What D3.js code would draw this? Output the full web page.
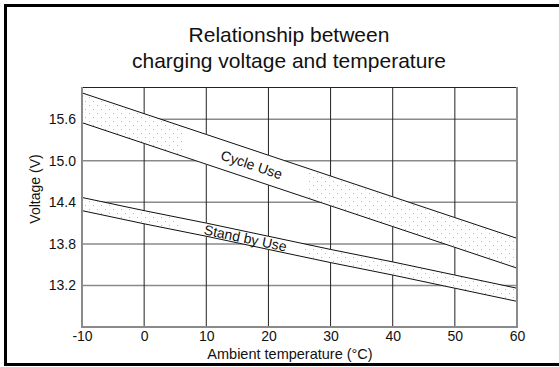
<!DOCTYPE html>
<html><head><meta charset="utf-8">
<script src="https://cdn.jsdelivr.net/npm/d3@7"></script>
<style>body{margin:0;background:#fff;}svg{display:block;font-family:"Liberation Sans",Arial,sans-serif;}</style>
</head><body>
<svg id="c" width="559" height="367"></svg>
<script>
const temps = [-10, 0, 10, 20, 30, 40, 50, 60];
const cycleUpper = [15.98, 15.68, 15.38, 15.08, 14.78, 14.48, 14.18, 13.88];
const cycleLower = [15.55, 15.25, 14.95, 14.65, 14.35, 14.05, 13.75, 13.45];
const standUpper = [14.47, 14.28, 14.10, 13.91, 13.72, 13.54, 13.35, 13.16];
const standLower = [14.28, 14.09, 13.91, 13.72, 13.53, 13.35, 13.16, 12.97];
const xTicks = [-10, 0, 10, 20, 30, 40, 50, 60];
const yTicks = [13.2, 13.8, 14.4, 15.0, 15.6];
const titleLines = ["Relationship between", "charging voltage and temperature"];
const bandLabels = ["Cycle Use", "Stand by Use"];

const svg = d3.select("#c");
const L = 82, R = 517, T = 87, B = 327;
const x = d3.scaleLinear().domain([-10, 60]).range([L, R]);
const y = d3.scaleLinear().domain([12.6, 16.065]).range([B, T]);

svg.append("rect").attr("x", 5.5).attr("y", 5.5).attr("width", 560).attr("height", 359)
  .attr("fill", "none").attr("stroke", "#000").attr("stroke-width", 3);

const defs = svg.append("defs");
const pat = defs.append("pattern").attr("id", "dots").attr("patternUnits", "userSpaceOnUse")
  .attr("width", 8).attr("height", 8);
pat.append("rect").attr("width", 8).attr("height", 8).attr("fill", "#fff");
pat.append("rect").attr("x", 1).attr("y", 1).attr("width", 1).attr("height", 1).attr("fill", "#b8b8b8");
pat.append("rect").attr("x", 5).attr("y", 5).attr("width", 1).attr("height", 1).attr("fill", "#b8b8b8");

const g = svg.append("g");
g.selectAll(".hg").data(yTicks).join("line")
  .attr("x1", L).attr("x2", R).attr("y1", d => y(d)).attr("y2", d => y(d))
  .attr("stroke", "#8a8a8a").attr("stroke-width", 1.5);
g.selectAll(".vg").data(xTicks.slice(1, -1)).join("line")
  .attr("x1", d => x(d)).attr("x2", d => x(d)).attr("y1", T).attr("y2", B)
  .attr("stroke", "#222").attr("stroke-width", 1);
g.append("line").attr("x1", L).attr("x2", R).attr("y1", T + 0.5).attr("y2", T + 0.5)
  .attr("stroke", "#222").attr("stroke-width", 1);

const area = d3.area().x((d, i) => x(temps[i])).y0(d => y(d[1])).y1(d => y(d[0]));
const line = d3.line().x((d, i) => x(temps[i])).y(d => y(d));
const bands = [
  {up: cycleUpper, lo: cycleLower, label: bandLabels[0], t: 16.5, w: 124, fs: 14},
  {up: standUpper, lo: standLower, label: bandLabels[1], t: 15.5, w: 124, fs: 14}
];
bands.forEach((b, k) => {
  const pts = b.up.map((v, i) => [v, b.lo[i]]);
  const d = area(pts);
  defs.append("clipPath").attr("id", "clip" + k).append("path").attr("d", d);
  svg.append("path").attr("d", d).attr("fill", "url(#dots)");
  const iu = d3.scaleLinear().domain(temps).range(b.up);
  const il = d3.scaleLinear().domain(temps).range(b.lo);
  const lt = b.t + 0.8;
  b.cx = x(lt); b.cy = (y(iu(lt)) + y(il(lt))) / 2;
  b.ang = Math.atan2(y(b.up[7]) - y(b.up[0]), x(60) - x(-10)) * 180 / Math.PI;
  const gx = x(b.t);
  svg.append("g").attr("clip-path", `url(#clip${k})`).append("rect")
    .attr("x", gx - b.w / 2).attr("y", b.cy - 50).attr("width", b.w).attr("height", 100)
    .attr("fill", "#fff");
});
bands.forEach(b => {
  svg.append("path").attr("d", line(b.up)).attr("fill", "none").attr("stroke", "#111").attr("stroke-width", 1);
  svg.append("path").attr("d", line(b.lo)).attr("fill", "none").attr("stroke", "#111").attr("stroke-width", 1);
  svg.append("text").attr("transform", `translate(${b.cx},${b.cy}) rotate(${b.ang})`)
    .attr("text-anchor", "middle").attr("dy", "0.36em").attr("font-size", b.fs).attr("fill", "#111").text(b.label);
});

svg.append("path").attr("d", `M${L},${T}V${B}H${R}V${T}`).attr("fill", "none")
  .attr("stroke", "#8a8a8a").attr("stroke-width", 2);

const xAxis = d3.axisBottom(x).tickValues(xTicks).tickSize(0).tickPadding(4.5).tickFormat(d => String(d));
const xa = svg.append("g").attr("transform", `translate(0,${B})`).call(xAxis);
xa.select(".domain").remove();
xa.selectAll("text").attr("font-size", 14).attr("fill", "#111").attr("font-family", "Liberation Sans, Arial, sans-serif");
const yAxis = d3.axisLeft(y).tickValues(yTicks).tickSize(0).tickPadding(6).tickFormat(d3.format(".1f"));
const ya = svg.append("g").attr("transform", `translate(${L},0)`).call(yAxis);
ya.select(".domain").remove();
ya.selectAll("text").attr("font-size", 14).attr("fill", "#111").attr("font-family", "Liberation Sans, Arial, sans-serif");

svg.append("text").attr("x", 290).attr("y", 358.5).attr("text-anchor", "middle")
  .attr("font-size", 14.5).attr("fill", "#111").text("Ambient temperature (°C)");
svg.append("text").attr("transform", "translate(40,189) rotate(-90)").attr("text-anchor", "middle")
  .attr("font-size", 14).attr("fill", "#111").text("Voltage (V)");

svg.selectAll(".title").data(titleLines).join("text")
  .attr("x", 289).attr("y", (d, i) => 42 + i * 26).attr("text-anchor", "middle")
  .attr("font-size", 21).attr("fill", "#111").text(d => d);
</script>
</body></html>
